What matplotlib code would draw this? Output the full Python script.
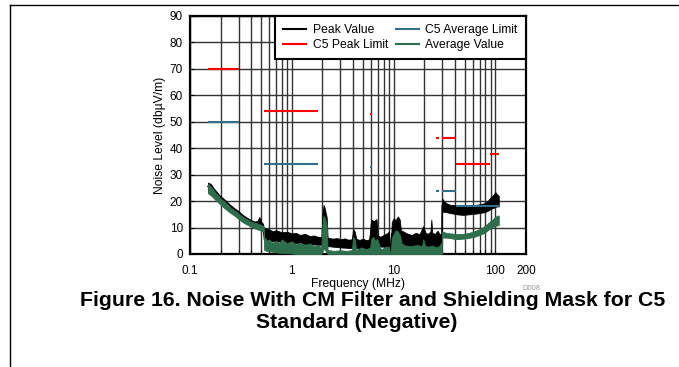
import matplotlib
matplotlib.use('Agg')
import numpy as np
import matplotlib.pyplot as plt
from matplotlib.lines import Line2D
from matplotlib.ticker import FixedLocator, NullFormatter

plt.rcParams['font.family'] = ['Liberation Sans', 'DejaVu Sans']

# C5 limit masks (MHz, dBuV/m)
peak_lim_start = [0.15, 0.53, 5.9, 26, 30, 41, 88]
peak_lim_stop = [0.3, 1.8, 6.2, 28, 41, 88, 108]
peak_lim_level = [70, 54, 53, 44, 44, 34, 38]

avg_lim_start = [0.15, 0.53, 5.9, 26, 30, 41]
avg_lim_stop = [0.3, 1.8, 6.2, 28, 41, 108]
avg_lim_level = [50, 34, 33, 24, 24, 18]

peak_freq = [0.15, 0.16, 0.17, 0.18, 0.2, 0.22, 0.25, 0.28, 0.3, 0.33,
             0.36, 0.4, 0.43, 0.46, 0.48, 0.5, 0.52, 0.53, 0.56, 0.6,
             0.65, 0.7, 0.8, 0.9, 1.0, 1.1, 1.2, 1.35, 1.5, 1.65,
             1.8, 1.98, 2.0, 2.05, 2.1, 2.2, 2.25, 2.5, 2.8, 3.0,
             3.3, 3.6, 3.9, 4.0, 4.15, 4.3, 4.6, 5.0, 5.4, 5.8,
             5.95, 6.1, 6.4, 6.8, 6.95, 7.4, 8.0, 8.6, 9.0, 9.25,
             9.4, 9.6, 10.0, 10.5, 11.0, 11.5, 11.8, 12.5, 13.5, 15.0,
             16.5, 18.0, 19.5, 20.5, 21.5, 23.0, 23.5, 24.0, 25.5, 27.0,
             28.5, 29.8, 30.0, 31, 33, 36, 42, 48, 55, 62,
             70, 78, 84, 88, 92, 96, 100, 104, 108]
peak_hi = [27, 26.5, 25, 23.8, 21.8, 20.5, 18.5, 17, 16.2, 14.8,
           13.8, 12.8, 12.3, 12.5, 14, 12.2, 11.5, 10, 9.5, 9.3,
           8.6, 9, 8.2, 8.4, 7.8, 8, 7.2, 7.6, 6.8, 7,
           6.5, 6.4, 15, 18.5, 17.5, 14, 6.2, 5.8, 6.0, 5.6,
           5.9, 5.4, 5.6, 9.5, 8.5, 5.8, 5.3, 5.8, 5.2, 5.6,
           11.5, 13, 12.4, 13.2, 7.2, 6.5, 7.2, 7.8, 8.5, 3,
           3, 12, 13.5, 12.8, 14.2, 13, 9, 8.5, 7.8, 7.2,
           8, 7.5, 10.5, 8.2, 7.6, 8.4, 13, 8, 7.6, 8.8,
           7.4, 7.8, 21, 20.2, 19.2, 18.6, 18.4, 18, 18.2, 18.5,
           18.8, 19.2, 20, 21, 21.8, 22.5, 23.4, 22.5, 22]
peak_lo = [24, 23, 22, 21, 19.5, 18, 16.5, 15, 14, 12.8,
           12, 11, 10.5, 10, 9.8, 9.5, 9.2, 5.5, 5.2, 5,
           4.8, 4.8, 4.6, 4.4, 4.3, 4.1, 4, 3.8, 3.7, 3.6,
           3.5, 3.5, 4, 5, 4.5, 3.5, 3, 2.8, 2.6, 2.5,
           2.4, 2.3, 2.3, 3, 3, 2.2, 2.1, 2, 2, 2,
           3, 3.5, 3.5, 3.5, 3, 2.8, 2.8, 2.8, 2.8, 0.3,
           0.3, 3, 4, 4, 4, 3.8, 3, 2.8, 2.6, 2.5,
           2.5, 2.4, 2.5, 2.4, 2.4, 2.4, 2.6, 2.3, 2.2, 2.2,
           2.1, 2, 16, 16, 15.8, 15.5, 15, 14.8, 15, 15.2,
           15.5, 15.8, 16.3, 16.8, 17.2, 17.5, 17.8, 18, 18]

# measured average trace
avg_freq = [0.15, 0.16, 0.17, 0.18, 0.2, 0.22, 0.25, 0.28, 0.3, 0.33,
            0.36, 0.4, 0.43, 0.46, 0.5, 0.52, 0.53, 0.535, 0.57, 0.6,
            0.65, 0.7, 0.75, 0.8, 0.9, 1.0, 1.1, 1.2, 1.35, 1.5,
            1.65, 1.8, 1.95, 2.0, 2.05, 2.12, 2.2, 2.25, 2.6, 3.0,
            3.5, 3.9, 4.0, 4.15, 4.3, 4.8, 5.4, 5.9, 6.0, 6.3,
            6.6, 6.9, 7.5, 8.2, 9.0, 9.25, 9.4, 9.6, 10.0, 10.5,
            11.0, 11.6, 12.0, 13.0, 15.0, 17.0, 19.0, 19.6, 20.5, 22.0,
            24.0, 26.0, 28.0, 29.8, 30.0, 33, 36, 42, 48, 55,
            62, 70, 78, 88, 95, 100, 104, 108]
avg_hi = [26.5, 25.5, 24.3, 23, 21, 19.7, 17.6, 16.2, 15.3, 14,
          13.2, 12.2, 11.8, 11.5, 11, 10.6, 10.4, 6.5, 5, 5.5,
          4.2, 5, 4, 5.5, 4, 4.8, 3.6, 4.4, 3.4, 4,
          3, 3.5, 2.5, 11, 14.5, 13.5, 11, 1.5, 1.2, 1.4,
          1.2, 1.5, 6.5, 5.5, 1.5, 2.5, 1.8, 2.5, 5.5, 6.5,
          5, 5.8, 1.8, 2.4, 2.8, 0.5, 0.5, 6, 7.5, 9,
          8.5, 7, 4, 3.2, 3, 3.4, 3, 5.5, 3, 2.8,
          3.2, 2.6, 3, 4.5, 8.5, 8.0, 7.8, 7.5, 7.6, 8.0,
          8.6, 9.4, 10.5, 12.2, 13.2, 14, 14.5, 14.5]
avg_lo = [23, 22.2, 21.2, 20.3, 18.6, 17.2, 15.5, 14.2, 13.2, 12,
          11.2, 10.2, 9.8, 9.3, 8.8, 8.5, 8.3, 1.5, 1.2, 1,
          0.8, 0.6, 0.5, 0.4, 0.3, 0.2, 0, 0, 0, 0,
          0, 0, 0, 1, 2, 1.5, 0.5, 0, 0, 0,
          0, 0, 0, 0, 0, 0, 0, 0, 0, 0,
          0, 0, 0, 0, 0, 0, 0, 0, 0, 0,
          0, 0, 0, 0, 0, 0, 0, 0, 0, 0,
          0, 0, 0, 0, 6.2, 6.2, 6, 5.6, 5.8, 6.1,
          6.5, 7.2, 8, 9.5, 10.3, 10.6, 10.8, 11]

black = '#000000'
red = '#ff0000'
blue = '#336e8c'
green = '#2e6e4c'

fig = plt.figure(figsize=(6.79, 3.67), dpi=100)
ax = fig.add_axes([190 / 679, 1 - 254 / 367, 336 / 679, 238 / 367])

pf = np.array(peak_freq)
ax.fill_between(pf, peak_lo, peak_hi, color=black, lw=0.6, zorder=3)
ax.plot(pf, (np.array(peak_lo) + np.array(peak_hi)) / 2, color=black, lw=1, zorder=3)
af = np.array(avg_freq)
ax.fill_between(af, avg_lo, avg_hi, color=green, lw=0.6, zorder=4)

ax.hlines(peak_lim_level, peak_lim_start, peak_lim_stop, color=red, lw=1.5, zorder=5)
ax.hlines(avg_lim_level, avg_lim_start, avg_lim_stop, color=blue, lw=1.5, zorder=5)

ax.set_xscale('log')
ax.set_xlim(0.1, 200)
ax.set_ylim(0, 90)
ax.xaxis.set_major_locator(FixedLocator([0.1, 1, 10, 100, 200]))
ax.set_xticklabels(['0.1', '1', '10', '100', '200'])
minors = [m * d for d in [0.1, 1, 10] for m in range(2, 10)]
ax.xaxis.set_minor_locator(FixedLocator(minors))
ax.xaxis.set_minor_formatter(NullFormatter())
ax.set_yticks(range(0, 91, 10))
ax.tick_params(axis='both', which='both', direction='in', length=3, width=0.8, labelsize=8.5)
ax.tick_params(axis='x', pad=8)
ax.tick_params(axis='y', pad=5)
ax.grid(True, which='both', color='#333333', lw=1.0, zorder=0)
ax.set_axisbelow(True)
for s in ax.spines.values():
    s.set_linewidth(1.6)

ax.set_xlabel('Frequency (MHz)', fontsize=8.7, labelpad=1)
ax.set_ylabel('Noise Level (db\u00b5V/m)', fontsize=8.7, labelpad=3)

handles = [Line2D([], [], color=black, lw=1.5),
           Line2D([], [], color=red, lw=1.5),
           Line2D([], [], color=blue, lw=1.5),
           Line2D([], [], color=green, lw=1.5)]
labels = ['Peak Value', 'C5 Peak Limit', 'C5 Average Limit', 'Average Value']
leg = ax.legend(handles, labels, ncol=2, loc='upper right', borderaxespad=0,
                fontsize=8.7, fancybox=False, edgecolor='black', framealpha=1,
                handlelength=1.9, handletextpad=0.55, columnspacing=0.6,
                labelspacing=0.2, borderpad=0.7)
leg.get_frame().set_linewidth(1.5)
leg.set_zorder(10)

# page frame lines
fig.add_artist(Line2D([10 / 679, 1], [1 - 5 / 367, 1 - 5 / 367], transform=fig.transFigure, color='black', lw=1))
fig.add_artist(Line2D([10 / 679, 10 / 679], [0, 1 - 5 / 367], transform=fig.transFigure, color='black', lw=1))

fig.text(531 / 679, 1 - 289 / 367, 'D008', fontsize=5.5, color='#999999', ha='center', va='center')
fig.text(373 / 679, 1 - 301 / 367, 'Figure 16. Noise With CM Filter and Shielding Mask for C5',
         fontsize=15.3, fontweight='bold', ha='center', va='center')
fig.text(357 / 679, 1 - 323 / 367, 'Standard (Negative)',
         fontsize=15.3, fontweight='bold', ha='center', va='center')

fig.savefig('out.png', dpi=100)
